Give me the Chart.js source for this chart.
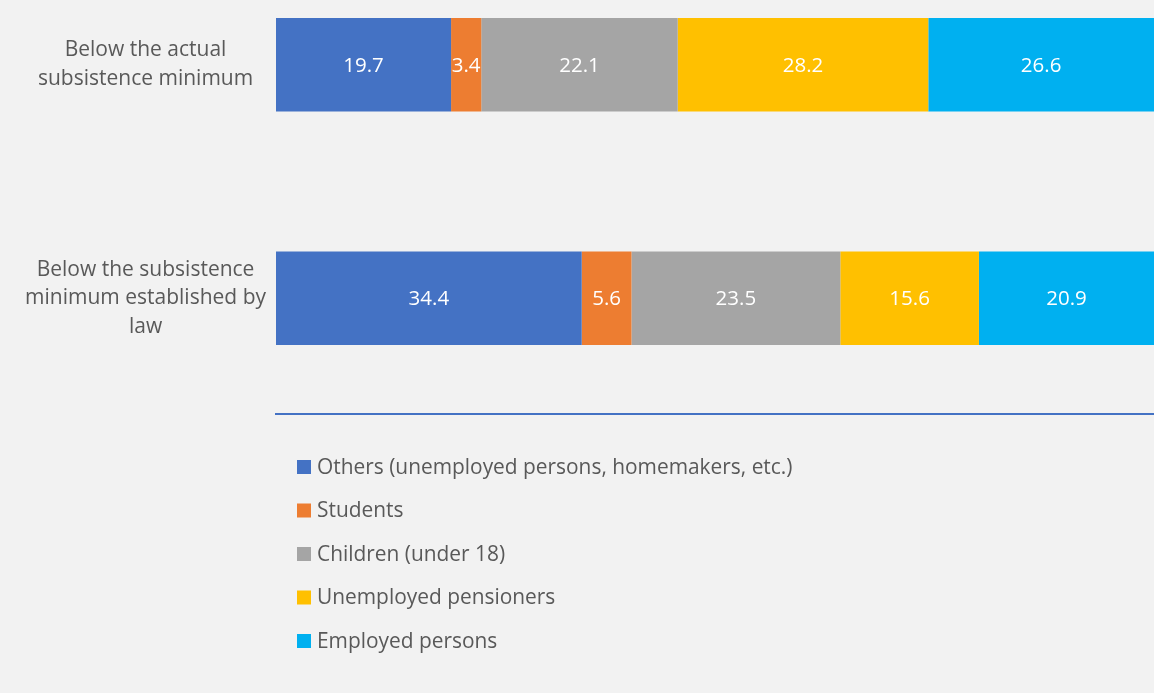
<!DOCTYPE html>
<html><head><meta charset="utf-8">
<script src="https://cdn.jsdelivr.net/npm/chart.js@4"></script>
<style>html,body{margin:0;padding:0;background:#f2f2f2;overflow:hidden}#wrap{position:relative;width:1154px;height:693px}</style>
</head><body><div id="wrap"><canvas id="c"></canvas></div>
<script>
const categories = [["Below the actual", "subsistence minimum"], ["Below the subsistence", "minimum established by", "law"]];
const seriesNames = ["Others (unemployed persons, homemakers, etc.)", "Students", "Children (under 18)", "Unemployed pensioners", "Employed persons"];
const others = [19.7, 34.4];
const students = [3.4, 5.6];
const children = [22.1, 23.5];
const pensioners = [28.2, 15.6];
const employed = [26.6, 20.9];
const seriesValues = [others, students, children, pensioners, employed];
const colors = ['#4472C4', '#ED7D31', '#A5A5A5', '#FFC000', '#00B0F0'];

const FONT = '"Open Sans", Lato, sans-serif';
const TEXT = '#595959';

const datasets = seriesNames.map((name, i) => ({
  label: name,
  data: seriesValues[i].map((v, j) => ({ x: v, y: j })),
  backgroundColor: colors[i],
  borderWidth: 0,
  barPercentage: 1,
  categoryPercentage: 0.4
}));

const valueLabels = {
  id: 'valueLabels',
  afterDatasetsDraw(chart) {
    const ctx = chart.ctx;
    const a = chart.chartArea;
    ctx.save();
    ctx.font = '20.5px ' + FONT;
    ctx.fillStyle = '#ffffff';
    ctx.textAlign = 'center';
    ctx.textBaseline = 'middle';
    chart.data.datasets.forEach((ds, i) => {
      chart.getDatasetMeta(i).data.forEach((bar, j) => {
        const p = bar.getProps(['x', 'y', 'base'], true);
        const x1 = Math.min(p.x, a.right), x0 = Math.max(p.base, a.left);
        ctx.fillText(seriesValues[i][j].toFixed(1), (x0 + x1) / 2, p.y + 1);
      });
    });
    ctx.restore();
  }
};

const listLegend = {
  id: 'listLegend',
  afterDraw(chart) {
    const ctx = chart.ctx;
    const a = chart.chartArea;
    ctx.save();
    ctx.font = '20.9px ' + FONT;
    ctx.textBaseline = 'middle';
    chart.data.datasets.forEach((ds, i) => {
      const y = a.bottom + 53 + i * 43.5;
      ctx.fillStyle = ds.backgroundColor;
      ctx.fillRect(a.left + 21, y - 7, 14, 14);
      ctx.fillStyle = TEXT;
      ctx.fillText(ds.label, a.left + 41, y + 1);
    });
    ctx.restore();
  }
};

new Chart(document.getElementById('c'), {
  type: 'bar',
  data: { datasets },
  plugins: [valueLabels, listLegend],
  options: {
    indexAxis: 'y',
    responsive: true,
    maintainAspectRatio: false,
    animation: false,
    layout: { padding: { left: 0, right: 0, top: 0, bottom: 279 } },
    plugins: { legend: { display: false }, tooltip: { enabled: false } },
    scales: {
      x: {
        type: 'linear', stacked: true, min: 0, max: 98.8,
        ticks: { display: false },
        grid: { display: false, drawTicks: false },
        border: { display: true, color: '#4472C4', width: 2 }
      },
      y: {
        type: 'linear', stacked: true, reverse: true, offset: false,
        min: -0.277, max: 1.496,
        afterBuildTicks(scale) { scale.ticks = categories.map((c, j) => ({ value: j })); },
        afterFit(scale) { scale.width = 276; scale.paddingTop = 0; scale.paddingBottom = 0; },
        ticks: {
          callback: (v) => categories[v],
          crossAlign: 'center', padding: 10,
          color: TEXT, font: { family: FONT, size: 21, lineHeight: 1.35 }
        },
        grid: { display: false, drawTicks: false, offset: false },
        border: { display: false }
      }
    }
  }
});
</script></body></html>
